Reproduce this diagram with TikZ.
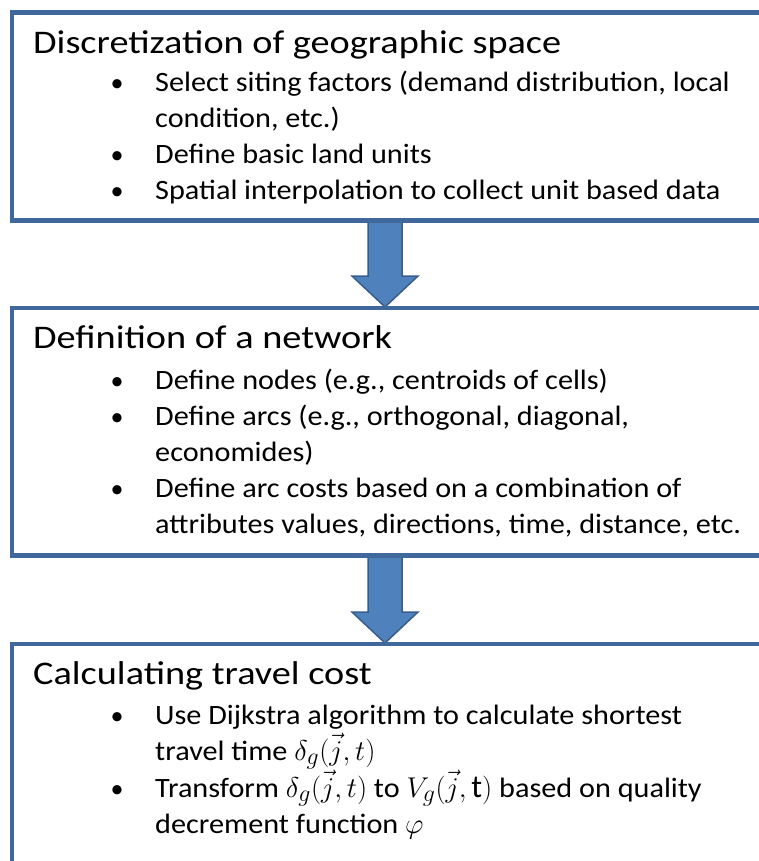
\documentclass[tikz,border=0pt]{standalone}
\usepackage{fontspec}
\setmainfont{Carlito}
\newfontfamily\headfont{Carlito}[FakeStretch=1.16]
\newfontfamily\itemfont{Carlito}[FakeStretch=1.08]
\usetikzlibrary{calc}
\definecolor{panelline}{RGB}{65,104,156}
\definecolor{arrowfill}{RGB}{79,129,189}
\definecolor{arrowline}{RGB}{56,93,138}
% inline formulas set a little larger than the running text
\newcommand{\bigmath}[1]{\scalebox{1.15}{$#1$}}
\tikzset{
  panel/.style={draw=panelline, line width=3pt, rectangle, anchor=north west, inner sep=0pt},
  heading/.style={anchor=base west, inner sep=0pt, font=\headfont\fontsize{33}{38}\selectfont},
  item/.style={anchor=base west, inner sep=0pt, font=\itemfont\fontsize{28}{32}\selectfont},
  dot/.style={anchor=base, inner sep=0pt, font=\fontsize{26}{32}\selectfont},
  blockarrow/.style={fill=arrowfill, draw=arrowline, line width=1.5pt, line join=miter}
}
\begin{document}
\begin{tikzpicture}[x=1pt, y=-1pt]
\useasboundingbox (0,0) rectangle (759,861);
\clip (0,0) rectangle (759,861);

% three stage panels
\node[panel, minimum width=780pt, minimum height=206pt] (box1) at (11,12) {};
\node[panel, minimum width=780pt, minimum height=246pt] (box2) at (11,307) {};
\node[panel, minimum width=780pt, minimum height=260pt] (box3) at (11,643) {};

% block arrows between the panels
\coordinate (ax) at (385,0);
\coordinate (a1s) at (box1.south -| ax);
\coordinate (a1t) at (box2.north -| ax);
\coordinate (a2s) at (box2.south -| ax);
\coordinate (a2t) at (box3.north -| ax);
\draw[blockarrow] ($(a1s)+(-17,0)$) -- ($(a1s)+(17,0)$) -- ($(a1t)+(17,-31)$) -- ($(a1t)+(33,-31)$)
  -- (a1t) -- ($(a1t)+(-33,-31)$) -- ($(a1t)+(-17,-31)$) -- cycle;
\draw[blockarrow] ($(a2s)+(-17,0)$) -- ($(a2s)+(17,0)$) -- ($(a2t)+(17,-31)$) -- ($(a2t)+(33,-31)$)
  -- (a2t) -- ($(a2t)+(-33,-31)$) -- ($(a2t)+(-17,-31)$) -- cycle;

% redraw the panel frames over the arrow ends
\draw[panelline, line width=3pt] (box1.north east) -- (box1.north west) -- (box1.south west) -- (box1.south east);
\draw[panelline, line width=3pt] (box2.north east) -- (box2.north west) -- (box2.south west) -- (box2.south east);
\draw[panelline, line width=3pt] (box3.north east) -- (box3.north west) -- (box3.south west);

% panel 1
\node[heading] (t1) at (33,54) {Discretization of geographic space};
\node[dot] (b11) at (117,92) {•};
\node[item] (l11) at (155,92) {Select siting factors (demand distribution, local};
\node[item] (l12) at (155,128) {condition, etc.)};
\node[dot] (b12) at (117,164) {•};
\node[item] (l13) at (155,164) {Define basic land units};
\node[dot] (b13) at (117,200) {•};
\node[item] (l14) at (155,200) {Spatial interpolation to collect unit based data};

% panel 2
\node[heading] (t2) at (33,348) {Definition of a network};
\node[dot] (b21) at (117,389) {•};
\node[item] (l21) at (155,389) {Define nodes (e.g., centroids of cells)};
\node[dot] (b22) at (117,425) {•};
\node[item] (l22) at (155,425) {Define arcs (e.g., orthogonal, diagonal,};
\node[item] (l23) at (155,461) {economides)};
\node[dot] (b23) at (117,497) {•};
\node[item] (l24) at (155,497) {Define arc costs based on a combination of};
\node[item] (l25) at (155,533) {attributes values, directions, time, distance, etc.};

% panel 3
\node[heading] (t3) at (33,684) {Calculating travel cost};
\node[dot] (b31) at (117,724) {•};
\node[item] (l31) at (155,724) {Use Dijkstra algorithm to calculate shortest};
\node[item] (l32) at (155,760) {travel time \bigmath{\delta_g(\vec{j},t)}};
\node[dot] (b32) at (117,797) {•};
\node[item] (l33) at (155,797) {Transform \bigmath{\delta_g(\vec{j},t)} to \bigmath{V_g(\vec{j},\mathrm{t})} based on quality};
\node[item] (l34) at (155,833) {decrement function \bigmath{\varphi}};
\end{tikzpicture}
\end{document}
